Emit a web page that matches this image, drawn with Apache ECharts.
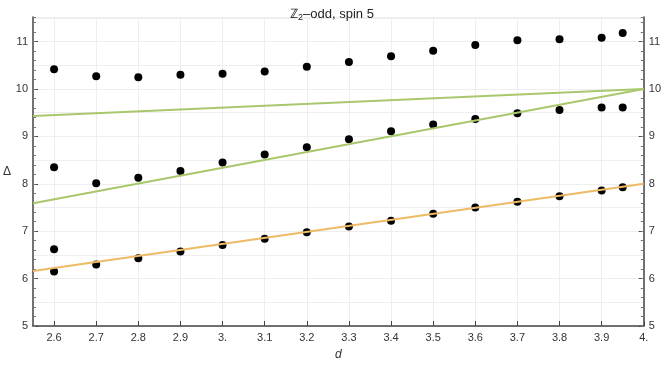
<!DOCTYPE html>
<html>
<head>
<meta charset="utf-8">
<script src="https://cdn.jsdelivr.net/npm/echarts@6/dist/echarts.min.js"></script>
<style>
  html, body { margin: 0; padding: 0; background: #fff; }
  #main { width: 664px; height: 368px; }
</style>
</head>
<body>
<div id="main"></div>
<script>
// d values of the computed points
var dVals = [2.6, 2.7, 2.8, 2.9, 3.0, 3.1, 3.2, 3.3, 3.4, 3.5, 3.6, 3.7, 3.8, 3.9, 3.95];
var upper = [10.42, 10.27, 10.25, 10.30, 10.32, 10.37, 10.47, 10.57, 10.69, 10.81, 10.93, 11.03, 11.05, 11.08, 11.18];
var middle = [8.35, 8.01, 8.13, 8.27, 8.45, 8.62, 8.77, 8.94, 9.11, 9.25, 9.37, 9.49, 9.56, 9.61, 9.61];
var lower = [6.15, 6.30, 6.43, 6.57, 6.71, 6.84, 6.98, 7.10, 7.22, 7.37, 7.50, 7.62, 7.74, 7.86, 7.93];
// the lone extra point at d = 2.6
var extraD = [2.6];
var extraDelta = [6.62];

// reference lines (end points)
var lineOrange = [[2.55, 6.16], [4.0, 8.0]];
var lineGreenFlat = [[2.55, 9.43], [4.0, 10.0]];
var lineGreenSteep = [[2.55, 7.59], [4.0, 10.0]];

var xTicks = [2.6, 2.7, 2.8, 2.9, 3.0, 3.1, 3.2, 3.3, 3.4, 3.5, 3.6, 3.7, 3.8, 3.9, 4.0];
var yTicks = [5, 6, 7, 8, 9, 10, 11];

function pairs(xs, ys) {
    return xs.map(function (x, i) { return [x, ys[i]]; });
}

var font = 'Liberation Sans, Arial, sans-serif';
var axisColor = '#444';
var gridColor = '#eeeeee';
var labelStyle = { color: '#333', fontSize: 11, fontFamily: font };

var myChart = echarts.init(document.getElementById('main'));

function yMajor(pos) {
    return {
        type: 'value', position: pos, min: 5, max: 11.52, interval: 1,
        axisLine: { show: true, onZero: false, lineStyle: { color: axisColor, width: 1.5 } },
        axisTick: { show: true, inside: true, length: 5, customValues: yTicks, lineStyle: { color: axisColor } },
        axisLabel: Object.assign({ margin: 5, customValues: yTicks }, labelStyle),
        splitLine: { show: false }
    };
}
function yMinor(pos) {
    return {
        type: 'value', position: pos, min: 5, max: 11.52, interval: 0.2,
        axisLine: { show: false },
        axisTick: { show: true, inside: true, length: 3, lineStyle: { color: '#777' } },
        axisLabel: { show: false },
        splitLine: { show: false }
    };
}

var dot = { color: '#000', opacity: 1 };

myChart.setOption({
    animation: false,
    title: {
        text: '{z|ℤ}{s|2}{z|–odd, spin 5}',
        left: 'center',
        top: 1,
        textStyle: {
            fontWeight: 'normal',
            rich: {
                z: { fontSize: 13, color: '#222', fontWeight: 'normal', fontFamily: font },
                s: { fontSize: 9, color: '#222', fontWeight: 'normal', verticalAlign: 'bottom', padding: [7, 0, 0, 0], fontFamily: font }
            }
        }
    },
    grid: { left: 32, right: 18, top: 17, bottom: 42 },
    xAxis: [
        {
            type: 'value', min: 2.55, max: 4.0,
            name: 'd', nameLocation: 'middle', nameGap: 23,
            nameTextStyle: { fontStyle: 'italic', fontSize: 12, color: '#333', fontFamily: font },
            axisLine: { show: true, onZero: false, lineStyle: { color: axisColor, width: 1.5 } },
            axisTick: { show: true, inside: true, length: 5, customValues: xTicks, lineStyle: { color: axisColor } },
            axisLabel: Object.assign({
                margin: 6, customValues: xTicks,
                formatter: function (v) {
                    var r = Math.round(v * 10) / 10;
                    return Number.isInteger(r) ? r + '.' : r.toFixed(1);
                }
            }, labelStyle),
            splitLine: { show: true, lineStyle: { color: gridColor, width: 1 } }
        }
    ],
    yAxis: [
        {
            // grid lines every 0.5
            type: 'value', min: 5, max: 11.52, interval: 0.5,
            name: 'Δ', nameLocation: 'middle', nameGap: 22, nameRotate: 0,
            nameTextStyle: { fontSize: 12, color: '#333', fontFamily: font },
            axisLine: { show: false },
            axisTick: { show: false },
            axisLabel: { show: false },
            splitLine: { show: true, lineStyle: { color: gridColor, width: 1 } }
        },
        yMajor('left'),
        yMinor('left'),
        yMajor('right'),
        yMinor('right')
    ],
    series: [
        {
            type: 'line', data: lineGreenFlat, symbol: 'none', silent: true,
            lineStyle: { color: '#a9c76c', width: 2 }
        },
        {
            type: 'line', data: lineGreenSteep, symbol: 'none', silent: true,
            lineStyle: { color: '#a9c76c', width: 2 }
        },
        {
            type: 'line', data: lineOrange, symbol: 'none', silent: true,
            lineStyle: { color: '#edbb66', width: 2 }
        },
        { type: 'scatter', data: pairs(dVals, upper), symbolSize: 8, itemStyle: dot },
        { type: 'scatter', data: pairs(dVals, middle), symbolSize: 8, itemStyle: dot },
        { type: 'scatter', data: pairs(dVals, lower), symbolSize: 8, itemStyle: dot },
        { type: 'scatter', data: pairs(extraD, extraDelta), symbolSize: 8, itemStyle: dot }
    ]
});
</script>
</body>
</html>
